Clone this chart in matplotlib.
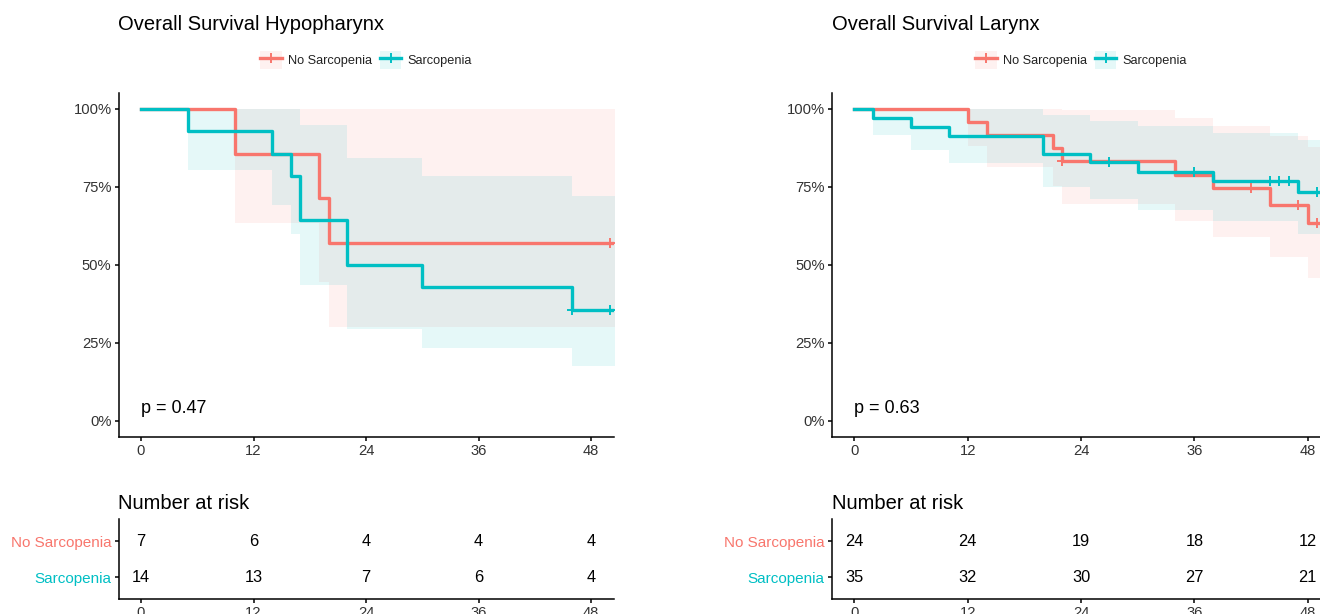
import numpy as np
import matplotlib.pyplot as plt
from matplotlib.lines import Line2D
from matplotlib.patches import Patch

plt.rcParams['font.family'] = ['Liberation Sans', 'DejaVu Sans']

# ============================================================
# DONNEES KAPLAN-MEIER (temps en mois)
# ============================================================

groups = ['No Sarcopenia', 'Sarcopenia']
risk_times = [0, 12, 24, 36, 48]

# --- Hypopharynx ---
hypo_ns_time  = [0, 10, 19, 20]
hypo_ns_surv  = [1.0, 0.857, 0.714, 0.571]
hypo_ns_lower = [1.0, 0.634, 0.447, 0.301]
hypo_ns_upper = [1.0, 1.0, 1.0, 1.0]
hypo_ns_censor = [50]

hypo_s_time  = [0, 5, 14, 16, 17, 22, 30, 46]
hypo_s_surv  = [1.0, 0.929, 0.857, 0.786, 0.643, 0.500, 0.429, 0.357]
hypo_s_lower = [1.0, 0.803, 0.692, 0.598, 0.435, 0.296, 0.234, 0.177]
hypo_s_upper = [1.0, 1.0, 1.0, 1.0, 0.950, 0.844, 0.785, 0.721]
hypo_s_censor = [46, 50]

hypo_followup = 51
hypo_pval = 0.47
hypo_risk_ns = [7, 6, 4, 4, 4]
hypo_risk_s  = [14, 13, 7, 6, 4]

# --- Larynx ---
lar_ns_time  = [0, 12, 14, 21, 22, 34, 38, 44, 48]
lar_ns_surv  = [1.0, 0.958, 0.917, 0.875, 0.833, 0.789, 0.746, 0.692, 0.635]
lar_ns_lower = [1.0, 0.882, 0.813, 0.752, 0.697, 0.641, 0.589, 0.525, 0.458]
lar_ns_upper = [1.0, 1.0, 1.0, 1.0, 0.997, 0.972, 0.944, 0.914, 0.879]
lar_ns_censor = [22, 42, 47, 49]

lar_s_time  = [0, 2, 6, 10, 20, 25, 30, 38, 47]
lar_s_surv  = [1.0, 0.971, 0.943, 0.914, 0.857, 0.829, 0.799, 0.768, 0.733]
lar_s_lower = [1.0, 0.918, 0.869, 0.826, 0.749, 0.713, 0.676, 0.640, 0.598]
lar_s_upper = [1.0, 1.0, 1.0, 1.0, 0.981, 0.963, 0.944, 0.923, 0.900]
lar_s_censor = [27, 36, 44, 45, 46, 49]

lar_followup = 52
lar_pval = 0.63
lar_risk_ns = [24, 24, 19, 18, 12]
lar_risk_s  = [35, 32, 30, 27, 21]

# ============================================================
# GRAPHIQUE
# ============================================================

red  = '#F8766D'
teal = '#00BFC4'
tick_color = '#333333'
W, H = 1320, 614

fig = plt.figure(figsize=(W / 100, H / 100), dpi=100)


def add_ax(left, right, top, bottom):
    return fig.add_axes([left / W, 1 - bottom / H, (right - left) / W, (bottom - top) / H])


def style_axis(ax):
    for side in ['top', 'right']:
        ax.spines[side].set_visible(False)
    for side in ['left', 'bottom']:
        ax.spines[side].set_linewidth(1.1)
        ax.spines[side].set_color('black')
    ax.tick_params(length=3, width=1.1, color='black', labelcolor=tick_color,
                   labelsize=10.6, pad=2)
    ax.set_xlim(-2.4, 50.4)
    ax.set_xticks(risk_times)


def km_panel(ax, curves, followup, pval):
    # rubans d'abord, puis courbes, puis censures
    for time, surv, lower, upper, censor, color in curves:
        t = np.append(time, followup)
        lo = np.append(lower, lower[-1])
        up = np.append(upper, upper[-1])
        ax.fill_between(t, lo, up, step='post', color=color, alpha=0.1, linewidth=0)
    for time, surv, lower, upper, censor, color in curves:
        t = np.append(time, followup)
        s = np.append(surv, surv[-1])
        ax.step(t, s, where='post', color=color, linewidth=2.4)
    for time, surv, lower, upper, censor, color in curves:
        idx = np.searchsorted(time, censor, side='right') - 1
        ax.plot(censor, np.array(surv)[idx], linestyle='none', marker='+',
                color=color, markersize=6.5, markeredgewidth=1.4)
    ax.text(0, 0.025, f'p = {pval}', fontsize=13, color='black', va='baseline')
    style_axis(ax)
    ax.set_ylim(-0.05, 1.05)
    ax.set_yticks([0, 0.25, 0.5, 0.75, 1.0])
    ax.set_yticklabels(['0%', '25%', '50%', '75%', '100%'])

    handles = [(Patch(facecolor=c, alpha=0.1, edgecolor='none'),
                Line2D([], [], color=c, linewidth=2.4, marker='+', markersize=6.5,
                       markeredgewidth=1.4))
               for c in [red, teal]]
    ax.legend(handles, groups, loc='center', bbox_to_anchor=(0.5, 1 + 33.4 / 343.2),
              ncol=2, frameon=False, fontsize=9.2, handlelength=1.7, handleheight=1.7,
              handletextpad=0.5, columnspacing=0.6, labelcolor='#222222',
              borderaxespad=0, borderpad=0)


def risk_panel(ax, risk_ns, risk_s):
    for t, n in zip(risk_times, risk_ns):
        ax.text(t, 2, str(n), ha='center', va='center', fontsize=11.8, color='black')
    for t, n in zip(risk_times, risk_s):
        ax.text(t, 1, str(n), ha='center', va='center', fontsize=11.8, color='black')
    style_axis(ax)
    ax.set_ylim(0.4, 2.6)
    ax.set_yticks([1, 2])
    ax.set_yticklabels(['Sarcopenia', 'No Sarcopenia'], fontsize=11)
    for lab, c in zip(ax.get_yticklabels(), [teal, red]):
        lab.set_color(c)


panels = [
    (118.5, 613.5, 'Overall Survival Hypopharynx',
     [(hypo_ns_time, hypo_ns_surv, hypo_ns_lower, hypo_ns_upper, hypo_ns_censor, red),
      (hypo_s_time, hypo_s_surv, hypo_s_lower, hypo_s_upper, hypo_s_censor, teal)],
     hypo_followup, hypo_pval, hypo_risk_ns, hypo_risk_s),
    (831.6, 1330.4, 'Overall Survival Larynx',
     [(lar_ns_time, lar_ns_surv, lar_ns_lower, lar_ns_upper, lar_ns_censor, red),
      (lar_s_time, lar_s_surv, lar_s_lower, lar_s_upper, lar_s_censor, teal)],
     lar_followup, lar_pval, lar_risk_ns, lar_risk_s),
]

for left, right, title, curves, followup, pval, risk_ns, risk_s in panels:
    ax_km = add_ax(left, right, 93.4, 436.6)
    km_panel(ax_km, curves, followup, pval)
    fig.text(left / W, 1 - 30 / H, title, fontsize=14.5, color='black', va='baseline')

    ax_risk = add_ax(left, right, 519.4, 598.6)
    risk_panel(ax_risk, risk_ns, risk_s)
    fig.text(left / W, 1 - 509.3 / H, 'Number at risk', fontsize=14.5, color='black',
             va='baseline')

plt.savefig('out.png', dpi=100, facecolor='white')
